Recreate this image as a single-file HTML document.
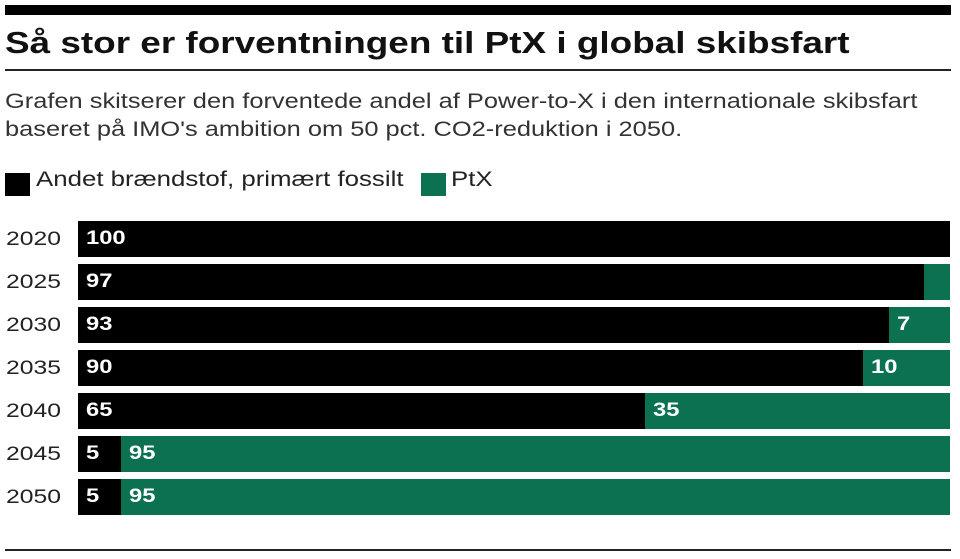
<!DOCTYPE html><html><head><style>
body{margin:0;width:960px;height:559px;background:#fff;position:relative;font-family:"Liberation Sans",sans-serif;overflow:hidden}
.a{position:absolute;transform-origin:0 0}
.bar{position:absolute;left:78px;width:872px;height:36px;display:flex}
.b{background:#000;height:100%;position:relative}
.g{background:#0b7150;height:100%;position:relative}
.l{position:absolute;left:8px;top:7px;color:#fff;font-weight:bold;font-size:19px;transform:scaleX(1.25);transform-origin:0 0}
.y{position:absolute;left:6px;font-size:19px;color:#222;transform:scaleX(1.3);transform-origin:0 0}
</style></head><body>
<div class="a" style="left:5px;top:5px;width:946px;height:10px;background:#000"></div>
<div class="a" style="left:5px;top:25px;font-size:31px;font-weight:bold;color:#111;transform:scaleX(1.19)">Så stor er forventningen til PtX i global skibsfart</div>
<div class="a" style="left:5px;top:69px;width:946px;height:2px;background:#222"></div>
<div class="a" style="left:5px;top:88px;font-size:21px;color:#333;line-height:28px;transform:scaleX(1.21);white-space:nowrap">Grafen skitserer den forventede andel af Power-to-X i den internationale skibsfart<br>baseret på IMO's ambition om 50 pct. CO2-reduktion i 2050.</div>
<div class="a" style="left:5px;top:173px;width:25px;height:23px;background:#000"></div>
<div class="a" style="left:36px;top:168px;font-size:21px;color:#222;transform:scaleX(1.23);white-space:nowrap">Andet brændstof, primært fossilt</div>
<div class="a" style="left:421px;top:173px;width:25px;height:23px;background:#0b7150"></div>
<div class="a" style="left:451px;top:168px;font-size:21px;color:#222;transform:scaleX(1.23)">PtX</div>

<div class="y" style="top:229px">2020</div>
<div class="bar" style="top:221px"><div class="b" style="width:100%"><span class="l">100</span></div></div>
<div class="y" style="top:272px">2025</div>
<div class="bar" style="top:264px"><div class="b" style="width:97%"><span class="l">97</span></div><div class="g" style="width:3%"></div></div>
<div class="y" style="top:315px">2030</div>
<div class="bar" style="top:307px"><div class="b" style="width:93%"><span class="l">93</span></div><div class="g" style="width:7%"><span class="l">7</span></div></div>
<div class="y" style="top:358px">2035</div>
<div class="bar" style="top:350px"><div class="b" style="width:90%"><span class="l">90</span></div><div class="g" style="width:10%"><span class="l">10</span></div></div>
<div class="y" style="top:401px">2040</div>
<div class="bar" style="top:393px"><div class="b" style="width:65%"><span class="l">65</span></div><div class="g" style="width:35%"><span class="l">35</span></div></div>
<div class="y" style="top:444px">2045</div>
<div class="bar" style="top:436px"><div class="b" style="width:4.9%"><span class="l">5</span></div><div class="g" style="width:95.1%"><span class="l">95</span></div></div>
<div class="y" style="top:487px">2050</div>
<div class="bar" style="top:479px"><div class="b" style="width:4.9%"><span class="l">5</span></div><div class="g" style="width:95.1%"><span class="l">95</span></div></div>
<div class="a" style="left:5px;top:549px;width:946px;height:2px;background:#222"></div>
</body></html>
